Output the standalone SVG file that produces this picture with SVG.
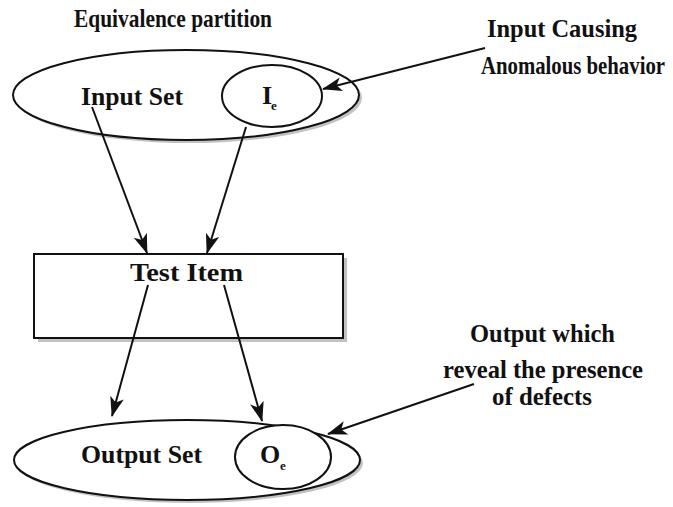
<svg xmlns="http://www.w3.org/2000/svg" width="673" height="507" viewBox="0 0 673 507">
<style>
text{font-family:'Liberation Serif','Times New Roman',Times,serif;font-weight:700;fill:#111}
.t{font-size:26px}
.sub{font-size:13px}
.shape{fill:#fff;stroke:#111;stroke-width:2}
.shadow{fill:#999;opacity:0.6}
.edge{stroke:#111;stroke-width:2;fill:none;marker-end:url(#ah)}
</style>
<defs>
<marker id="ah" markerUnits="userSpaceOnUse" markerWidth="22" markerHeight="16" refX="19" refY="7" orient="auto">
<path d="M0,0 L20,7 L0,14 L5,7 z" fill="#111"/>
</marker>
</defs>
<rect width="673" height="507" fill="#fff"/>
<g id="title"><text class="t" x="74" y="27" textLength="198" lengthAdjust="spacingAndGlyphs">Equivalence partition</text></g>
<g id="input-set">
<ellipse class="shadow" cx="189" cy="98" rx="173" ry="45"/>
<ellipse class="shape" cx="186" cy="95" rx="173" ry="45"/>
<text class="t" x="81" y="105" textLength="102" lengthAdjust="spacingAndGlyphs">Input Set</text>
</g>
<g id="ie">
<ellipse class="shape" cx="272" cy="96" rx="50" ry="31"/>
<text class="t" x="262" y="104">I</text><text class="sub" x="271" y="110">e</text>
</g>
<g id="label-input-causing">
<text class="t" x="487" y="37" textLength="150" lengthAdjust="spacingAndGlyphs">Input Causing</text>
<text class="t" x="481" y="74" textLength="184" lengthAdjust="spacingAndGlyphs">Anomalous behavior</text>
</g>
<g id="test-item">
<rect class="shadow" x="38" y="258" width="309" height="84"/>
<rect class="shape" x="34" y="254" width="309" height="84"/>
<text class="t" x="130" y="281" textLength="113" lengthAdjust="spacingAndGlyphs">Test Item</text>
</g>
<g id="output-set">
<ellipse class="shadow" cx="190" cy="463" rx="173" ry="40"/>
<ellipse class="shape" cx="187" cy="460" rx="173" ry="40"/>
<text class="t" x="81" y="463" textLength="121" lengthAdjust="spacingAndGlyphs">Output Set</text>
</g>
<g id="oe">
<ellipse class="shape" cx="283" cy="457" rx="48" ry="32"/>
<text class="t" x="260" y="463">O</text><text class="sub" x="280" y="470">e</text>
</g>
<g id="label-output">
<text class="t" x="470" y="342" textLength="145" lengthAdjust="spacingAndGlyphs">Output which</text>
<text class="t" x="443" y="378" textLength="200" lengthAdjust="spacingAndGlyphs">reveal the presence</text>
<text class="t" x="492" y="405" textLength="100" lengthAdjust="spacingAndGlyphs">of defects</text>
</g>
<g id="connectors">
<line class="edge" x1="92" y1="107" x2="147" y2="253"/>
<line class="edge" x1="246" y1="127" x2="207" y2="253"/>
<line class="edge" x1="148" y1="285" x2="112" y2="416"/>
<line class="edge" x1="224" y1="285" x2="262" y2="421"/>
<line class="edge" x1="485" y1="48" x2="323" y2="89"/>
<line class="edge" x1="474" y1="384" x2="328" y2="434"/>
</g>
</svg>
